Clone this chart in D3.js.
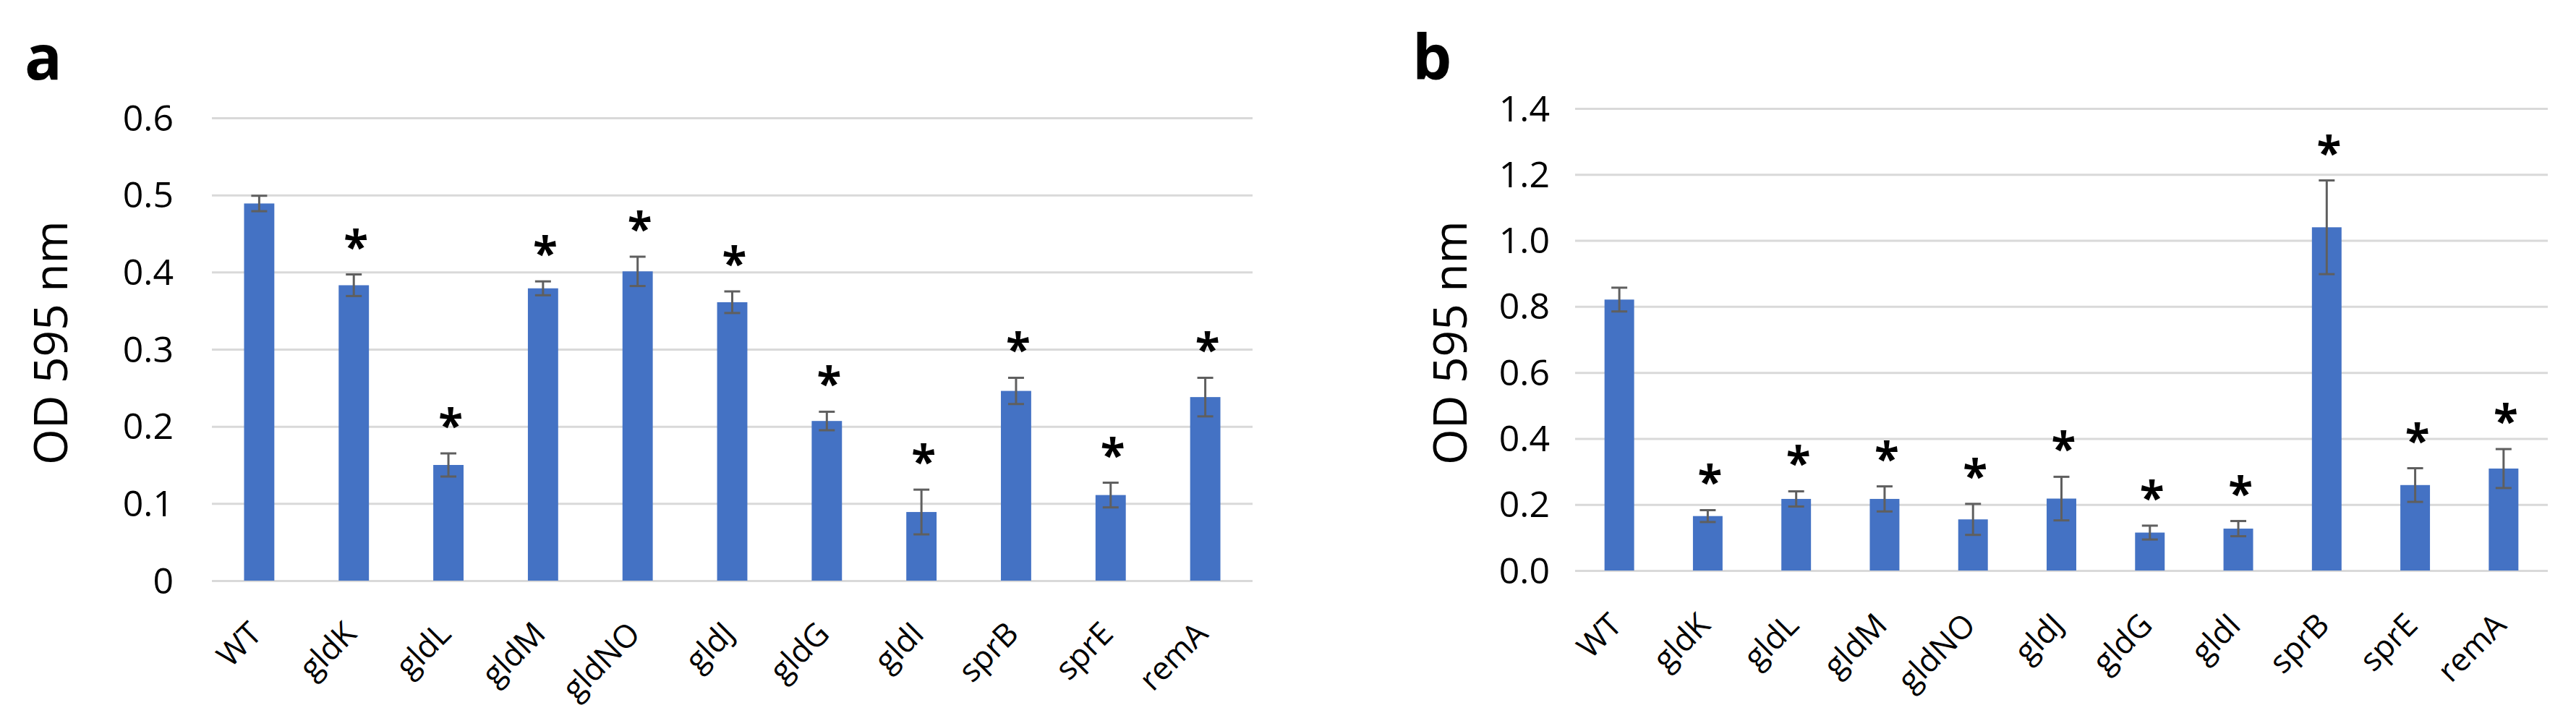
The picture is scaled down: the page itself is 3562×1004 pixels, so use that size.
<!DOCTYPE html>
<html>
<head>
<meta charset="utf-8">
<script src="https://cdn.jsdelivr.net/npm/d3@7"></script>
<style>
  html, body { margin: 0; padding: 0; background: #fff; }
  svg { display: block; }
  text { font-family: "Open Sans", "Noto Sans", sans-serif; }
</style>
</head>
<body>
<svg id="chart" width="3562" height="1004"></svg>
<script>
// ---------- data ----------
const categories = ["WT", "gldK", "gldL", "gldM", "gldNO", "gldJ", "gldG", "gldI", "sprB", "sprE", "remA"];

// Panel a
const valuesA = [0.489, 0.383, 0.150, 0.379, 0.401, 0.361, 0.207, 0.089, 0.246, 0.111, 0.238];
const errorsA = [0.010, 0.014, 0.015, 0.009, 0.019, 0.014, 0.012, 0.029, 0.017, 0.016, 0.025];
const signifA = [false, true, true, true, true, true, true, true, true, true, true];
const ticksA = [0, 0.1, 0.2, 0.3, 0.4, 0.5, 0.6];
const tickLabelsA = ["0", "0.1", "0.2", "0.3", "0.4", "0.5", "0.6"];

// Panel b
const valuesB = [0.821, 0.165, 0.217, 0.217, 0.155, 0.218, 0.115, 0.127, 1.040, 0.259, 0.309];
const errorsB = [0.036, 0.018, 0.023, 0.038, 0.047, 0.066, 0.021, 0.023, 0.142, 0.051, 0.059];
const signifB = [false, true, true, true, true, true, true, true, true, true, true];
const ticksB = [0, 0.2, 0.4, 0.6, 0.8, 1.0, 1.2, 1.4];
const tickLabelsB = ["0.0", "0.2", "0.4", "0.6", "0.8", "1.0", "1.2", "1.4"];

const yTitle = "OD 595 nm";
const panelLetters = ["a", "b"];

// ---------- drawing ----------
const svg = d3.select("#chart");
const BAR = "#4472C4", GRID = "#d9d9d9", ERR = "#5f5f5f";

function panel(cfg) {
  const g = svg.append("g");
  const x = d3.scaleBand().domain(categories).range([cfg.x0, cfg.x1])
    .paddingInner(cfg.pi).paddingOuter(cfg.pi / 2);
  const y = d3.scaleLinear().domain([0, cfg.max]).range([cfg.y0, cfg.y1]);

  // gridlines + tick labels
  const axis = d3.axisLeft(y).tickValues(cfg.ticks)
    .tickFormat((d, i) => cfg.tickLabels[i])
    .tickSize(-(cfg.x1 - cfg.x0)).tickPadding(cfg.tickPad);
  const ag = g.append("g").attr("transform", `translate(${cfg.x0},0)`).call(axis);
  ag.select(".domain").remove();
  ag.selectAll(".tick line").attr("stroke", GRID).attr("stroke-width", 3);
  ag.selectAll(".tick text").attr("font-size", 50).attr("fill", "#000")
    .attr("font-family", '"Open Sans", sans-serif').attr("dy", "0.34em");

  // bars
  g.selectAll("rect.bar").data(cfg.values).join("rect").attr("class", "bar")
    .attr("x", (d, i) => x(categories[i]))
    .attr("width", x.bandwidth())
    .attr("y", d => y(d))
    .attr("height", d => y(0) - y(d))
    .attr("fill", BAR);

  // error bars
  const cx = i => x(categories[i]) + x.bandwidth() / 2;
  const eg = g.append("g").attr("stroke", ERR).attr("stroke-width", 3).attr("fill", "none");
  cfg.values.forEach((v, i) => {
    const e = cfg.errors[i];
    eg.append("line").attr("x1", cx(i)).attr("x2", cx(i)).attr("y1", y(v + e)).attr("y2", y(v - e));
    eg.append("line").attr("x1", cx(i) - 11).attr("x2", cx(i) + 11).attr("y1", y(v + e)).attr("y2", y(v + e));
    eg.append("line").attr("x1", cx(i) - 11).attr("x2", cx(i) + 11).attr("y1", y(v - e)).attr("y2", y(v - e));
  });

  // asterisks
  g.selectAll("text.star").data(cfg.values.map((v, i) => ({ v, i })).filter(d => cfg.signif[d.i]))
    .join("text").attr("class", "star")
    .attr("x", d => cx(d.i) + 3)
    .attr("y", d => y(d.v + cfg.errors[d.i]) - 49 + 33)
    .attr("text-anchor", "middle").attr("font-size", 62).attr("font-weight", "bold")
    .attr("fill", "#000").text("*");

  // x labels
  g.selectAll("text.xl").data(categories).join("text").attr("class", "xl")
    .attr("transform", (d, i) => `translate(${cx(i) + 6},${cfg.y0 + cfg.labelDrop}) rotate(-45)`)
    .attr("text-anchor", "end").attr("font-size", 44)
    .attr("fill", "#000").text(d => d);

  // y title
  g.append("text")
    .attr("transform", `translate(${cfg.titleX},${474}) rotate(-90)`)
    .attr("text-anchor", "middle").attr("font-size", 64).attr("fill", "#000")
    .text(yTitle);

  // panel letter
  g.append("text").attr("x", cfg.letterX).attr("y", 110)
    .attr("font-size", 86).attr("font-weight", "bold").attr("fill", "#000")
    .text(cfg.letter);
}

panel({
  x0: 293, x1: 1732, y0: 803, y1: 163, max: 0.6, pi: 0.68, tickPad: 53, labelDrop: 76,
  ticks: ticksA, tickLabels: tickLabelsA, values: valuesA, errors: errorsA, signif: signifA,
  titleX: 93, letterX: 34, letter: panelLetters[0]
});
panel({
  x0: 2178, x1: 3523, y0: 789, y1: 150, max: 1.4, pi: 0.665, tickPad: 35, labelDrop: 78,
  ticks: ticksB, tickLabels: tickLabelsB, values: valuesB, errors: errorsB, signif: signifB,
  titleX: 2028, letterX: 1953, letter: panelLetters[1]
});
</script>
</body>
</html>
